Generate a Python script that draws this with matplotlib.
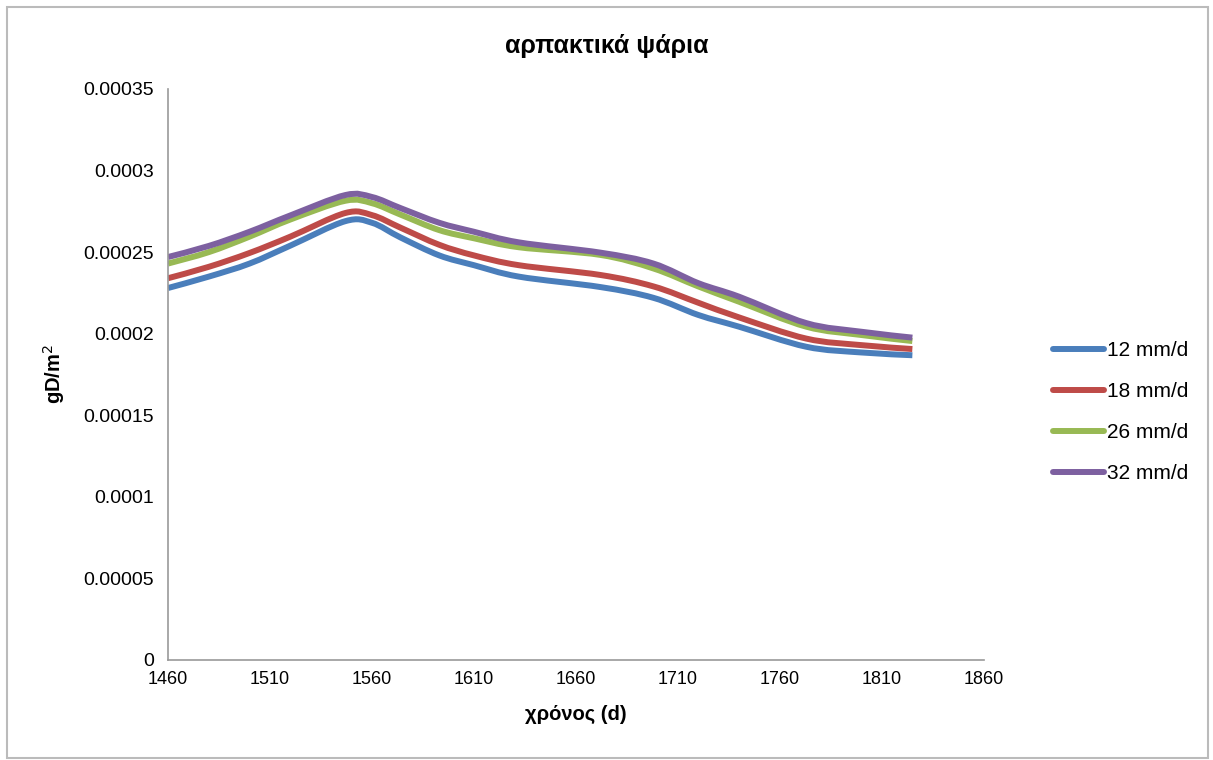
import matplotlib
matplotlib.use('Agg')
import matplotlib.pyplot as plt
import numpy as np
from matplotlib.patches import Rectangle, PathPatch
from matplotlib.path import Path
from matplotlib.lines import Line2D

plt.rcParams['font.family'] = ['Liberation Sans', 'DejaVu Sans']

# values
days = [1460, 1480, 1500, 1520, 1547, 1560, 1574, 1593, 1610, 1632, 1672, 1698, 1720, 1740, 1773, 1800, 1825]
s12 = [0.000228, 0.000235, 0.000243, 0.000254, 0.000269, 0.000268, 0.000259, 0.000248, 0.000242, 0.000235,
       0.0002286, 0.000222, 0.0002115, 0.0002043, 0.000192, 0.0001885, 0.0001868]
s18 = [0.000234, 0.000241, 0.0002495, 0.0002595, 0.000274, 0.0002727, 0.000265, 0.0002545, 0.000248, 0.000242,
       0.000236, 0.000229, 0.000219, 0.000210, 0.000197, 0.000193, 0.0001906]
s26 = [0.000243, 0.000250, 0.0002595, 0.000270, 0.0002815, 0.000280, 0.000273, 0.0002635, 0.0002585, 0.000253,
       0.0002483, 0.000240, 0.000229, 0.0002196, 0.0002043, 0.0001992, 0.0001955]
s32 = [0.000247, 0.0002538, 0.0002625, 0.0002725, 0.000285, 0.0002838, 0.000277, 0.000268, 0.0002625, 0.000256,
       0.0002497, 0.000243, 0.000231, 0.0002227, 0.0002065, 0.0002012, 0.0001976]
series = [s12, s18, s26, s32]
names = ['12 mm/d', '18 mm/d', '26 mm/d', '32 mm/d']
colors = ['#4A7EBB', '#BE4B48', '#98B954', '#7D60A0']

xticks = [1460, 1510, 1560, 1610, 1660, 1710, 1760, 1810, 1860]
yticks = [0, 0.00005, 0.0001, 0.00015, 0.0002, 0.00025, 0.0003, 0.00035]
ylabels = ['0', '0.00005', '0.0001', '0.00015', '0.0002', '0.00025', '0.0003', '0.00035']


def smooth_path(x, y):
    # smoothed line like the spreadsheet: cubic bezier segments through the points
    p = np.column_stack([x, y]).astype(float)
    n = len(p)
    verts = [p[0]]
    codes = [Path.MOVETO]
    for i in range(n - 1):
        p0 = p[i - 1] if i > 0 else p[i]
        p3 = p[i + 2] if i + 2 < n else p[i + 1]
        c1 = p[i] + (p[i + 1] - p0) / 6
        c2 = p[i + 1] - (p3 - p[i]) / 6
        verts += [c1, c2, p[i + 1]]
        codes += [Path.CURVE4] * 3
    return Path(verts, codes)


fig = plt.figure(figsize=(12.13, 7.6), dpi=100)
ax = fig.add_axes([0.1385, 0.1316, 0.6725, 0.7513])

handles = []
for vals, name, c in zip(series, names, colors):
    ax.add_patch(PathPatch(smooth_path(days, vals), fill=False, edgecolor=c, lw=4.3,
                           capstyle='butt', joinstyle='round'))
    handles.append(Line2D([], [], color=c, lw=4.3, solid_capstyle='round', label=name))

ax.set_xlim(1460, 1860)
ax.set_ylim(0, 0.00035)
ax.set_xticks(xticks)
ax.set_xticklabels([str(t) for t in xticks])
ax.set_yticks(yticks)
ax.set_yticklabels(ylabels)
ax.tick_params(length=0)
ax.tick_params(axis='x', labelsize=13, pad=8)
ax.tick_params(axis='y', labelsize=14, pad=10)
for s in ['top', 'right']:
    ax.spines[s].set_visible(False)
for s in ['left', 'bottom']:
    ax.spines[s].set_color('#999999')
    ax.spines[s].set_linewidth(1.2)

fig.text(0.5, 0.94, 'αρπακτικά ψάρια', fontsize=18, fontweight='bold', ha='center', va='center')
ax.set_xlabel('χρόνος (d)', fontsize=14.5, fontweight='bold', labelpad=12)
ax.set_ylabel('gD/m$^2$', fontsize=14.5, fontweight='bold', labelpad=12)

ax.legend(handles=handles, loc='center left', bbox_to_anchor=(1.062, 0.434), frameon=False,
          fontsize=15, handlelength=2.45, handletextpad=0.15, labelspacing=1.05)

fig.patches.append(Rectangle((0.006, 0.003), 0.99, 0.988, transform=fig.transFigure,
                             fill=False, edgecolor='#BBBBBB', lw=1.5))

fig.savefig('out.png', dpi=100)
